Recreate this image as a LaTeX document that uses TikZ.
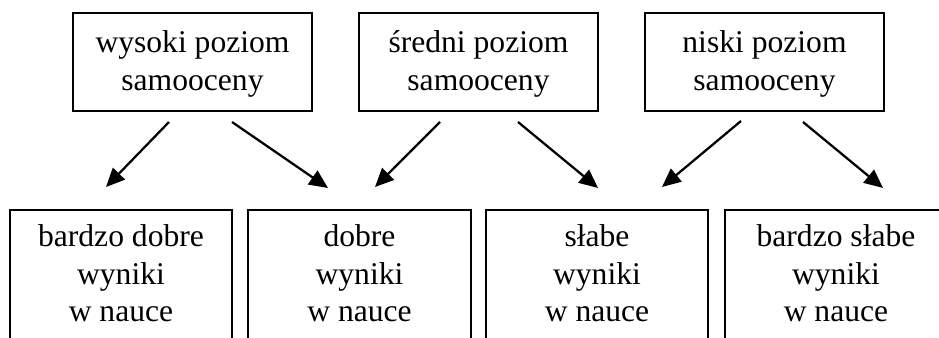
\documentclass[tikz,border=0pt]{standalone}
\usepackage{fontspec}
\setmainfont{Liberation Serif}
\usetikzlibrary{arrows.meta,calc}

\tikzset{
  topbox/.style={draw, line width=1.4pt, inner sep=0pt, outer sep=0pt,
                 minimum width=179.25pt, minimum height=73.5pt},
  boxline/.style={line width=1.4pt},
  lbl/.style={anchor=base, inner sep=0pt, outer sep=0pt,
              font=\fontsize{23.7}{27.9}\selectfont},
  link/.style={line width=1.7pt, -{Triangle[length=14pt,width=12.5pt]}}
}
\newcommand{\lines}[1]{\setlength{\tabcolsep}{0pt}\begin{tabular}[t]{c}#1\end{tabular}}

\begin{document}
\begin{tikzpicture}[x=0.75pt,y=-0.75pt]
  \clip (0,0) rectangle (939,338);
  \fill[white] (0,0) rectangle (939,338);

  % upper row: levels of self-esteem
  \node[topbox] (t1) at (192.5,62) {};
  \node[topbox] (t2) at (478.5,62) {};
  \node[topbox] (t3) at (764.5,62) {};
  \node[lbl] (l1) at ($(t1.north)+(0,40)$) {\lines{wysoki poziom\\samooceny}};
  \node[lbl] (l2) at ($(t2.north)+(0,40)$) {\lines{średni poziom\\samooceny}};
  \node[lbl] (l3) at ($(t3.north)+(0,40)$) {\lines{niski poziom\\samooceny}};

  % lower row: school results (boxes open at the bottom)
  \draw[boxline] (10,360) |- (232,210) -- (232,360);
  \draw[boxline] (248,360) |- (471,210) -- (471,360);
  \draw[boxline] (486,360) |- (708,210) -- (708,360);
  \draw[boxline] (725,360) |- (947,210) -- (947,360);
  \node[lbl] (b1) at (121,247) {\lines{bardzo dobre\\wyniki\\w nauce}};
  \node[lbl] (b2) at (359.5,247) {\lines{dobre\\wyniki\\w nauce}};
  \node[lbl] (b3) at (597,247) {\lines{słabe\\wyniki\\w nauce}};
  \node[lbl] (b4) at (836,247) {\lines{bardzo słabe\\wyniki\\w nauce}};

  % arrow ends
  \coordinate (s1) at (169,122); \coordinate (e1) at (106,187);
  \coordinate (s2) at (232,122); \coordinate (e2) at (328,188);
  \coordinate (s3) at (440,122); \coordinate (e3) at (375,187);
  \coordinate (s4) at (518,122); \coordinate (e4) at (598,188);
  \coordinate (s5) at (741,121); \coordinate (e5) at (662,187);
  \coordinate (s6) at (803,122); \coordinate (e6) at (883,188);

  \draw[link] (s1) -- (e1);
  \draw[link] (s2) -- (e2);
  \draw[link] (s3) -- (e3);
  \draw[link] (s4) -- (e4);
  \draw[link] (s5) -- (e5);
  \draw[link] (s6) -- (e6);
\end{tikzpicture}
\end{document}
